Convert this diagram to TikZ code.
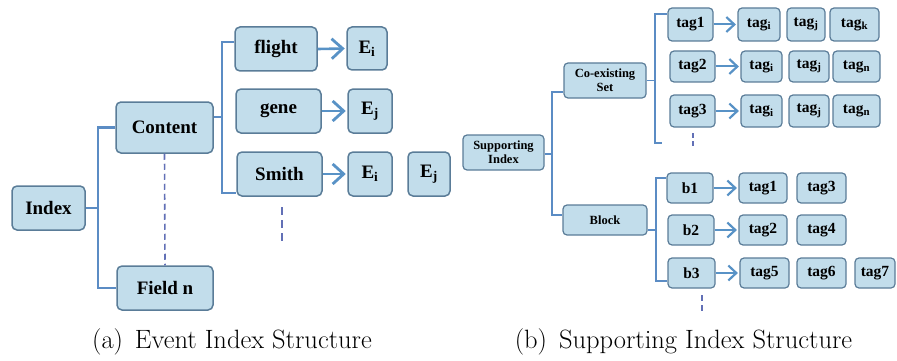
\documentclass[tikz,border=0pt]{standalone}
\usepackage{fontspec}
\newfontfamily\tnr{Liberation Serif}
\usetikzlibrary{arrows.meta}
\definecolor{boxfill}{HTML}{C2DDEB}
\definecolor{boxborder}{HTML}{5A7C98}
\definecolor{linecol}{HTML}{5B8CC4}
\definecolor{arrowcol}{HTML}{5892C6}
\newcommand{\sub}[1]{\textsubscript{#1}}
\tikzset{
  box/.style={draw=boxborder, fill=boxfill, rounded corners=5pt, line width=1.5pt, inner sep=0pt,
    font=\tnr\bfseries\fontsize{19}{21}\selectfont},
  smallbox/.style={box, line width=1.2pt, rounded corners=4pt, font=\tnr\bfseries\fontsize{15.5}{17}\selectfont},
  labbox/.style={box, line width=1.2pt, rounded corners=4pt, align=center, font=\tnr\bfseries\fontsize{12.5}{14}\selectfont},
  sz/.style 2 args={minimum width=#1pt, minimum height=#2pt},
  bline/.style={draw=linecol, line width=2.6pt},
  sline/.style={draw=linecol, line width=1.8pt},
  arr/.style={draw=arrowcol, line width=2.6pt, -{Straight Barb[length=11pt,width=20pt,line width=2.8pt]}, shorten >=1.5pt},
  sarr/.style={draw=arrowcol, line width=2pt, -{Straight Barb[length=8pt,width=15pt,line width=2.2pt]}, shorten >=1.5pt},
  dline/.style={draw=linecol!80!violet, line width=2pt, dash pattern=on 7pt off 4pt},
  captext/.style={font=\fontsize{26.5}{30}\selectfont, inner sep=0pt}
}
\begin{document}
\begin{tikzpicture}[x=1pt, y=-1pt]
\useasboundingbox (0,0) rectangle (897,361);
% ---------- (a) ----------
\node[box, sz={73}{44}] (index) at (48.5,208) {Index};
\node[box, sz={97}{51}] (content) at (164.5,127.5) {Content};
\node[box, sz={96}{44}] (fieldn) at (165,288) {Field n};
\node[box, sz={82}{44}] (flight) at (276,49) {flight};
\node[box, sz={40}{43}] (ei1) at (367,48.5) {E\sub{i}};
\node[box, sz={85}{44}] (gene) at (278.5,111) {gene};
\node[box, sz={44}{44}] (ej1) at (370,111) {E\sub{j}};
\node[box, sz={85}{44}] (smith) at (279.5,174) {Smith};
\node[box, sz={44}{44}] (ei2) at (370,174) {E\sub{i}};
\node[box, sz={42}{44}] (ej2) at (429,174) {E\sub{j}};

\coordinate (iv) at (98,208);
\draw[bline] (index.east) -- (iv);
\draw[bline] (content.west) -| (iv) |- (fieldn.west);
\coordinate (cv1) at (222,42);
\coordinate (cv2) at (222,193);
\coordinate (cv3) at (222,117);
\draw[bline] (flight.west |- cv1) -- (cv1) -- (cv2) -- (smith.west |- cv2);
\draw[bline] (content.east |- cv3) -- (cv3);
\draw[arr] (flight.east) -- (ei1.west);
\draw[arr] (gene.east) -- (ej1.west);
\draw[arr] (smith.east) -- (ei2.west);
\draw[dline, line width=1.6pt, dash pattern=on 6pt off 4pt] (content.south) -- (fieldn.north);
\coordinate (sd1) at (282,207);
\coordinate (sd2) at (282,245);
\draw[dline, line width=2.4pt, dash pattern=on 8pt off 5pt] (sd1) -- (sd2);

\node[captext] (capa) at (232,342) {(a)\hspace{0.45em}Event Index Structure};

% ---------- (b) ----------
\node[labbox, sz={81}{35}] (si) at (503.5,152.5) {Supporting\\Index};
\node[labbox, sz={82}{35}] (co) at (605,80.5) {Co-existing\\Set};
\node[labbox, sz={84}{30}] (block) at (605,220) {Block};

\node[smallbox, sz={45}{33}] (t1) at (690.5,24.5) {tag1};
\node[smallbox, sz={42}{33}] (t1i) at (759,24.5) {tag\sub{i}};
\node[smallbox, sz={38}{33}] (t1j) at (806,24.5) {tag\sub{j}};
\node[smallbox, sz={49}{33}] (t1k) at (854.5,24.5) {tag\sub{k}};

\node[smallbox, sz={45}{31}] (t2) at (692.5,66.5) {tag2};
\node[smallbox, sz={41}{31}] (t2i) at (761.5,66.5) {tag\sub{i}};
\node[smallbox, sz={40}{31}] (t2j) at (809,66.5) {tag\sub{j}};
\node[smallbox, sz={47}{31}] (t2n) at (856.5,66.5) {tag\sub{n}};

\node[smallbox, sz={45}{32}] (t3) at (692.5,111) {tag3};
\node[smallbox, sz={41}{32}] (t3i) at (761.5,111) {tag\sub{i}};
\node[smallbox, sz={40}{32}] (t3j) at (809,111) {tag\sub{j}};
\node[smallbox, sz={47}{32}] (t3n) at (856.5,111) {tag\sub{n}};

\node[smallbox, sz={46}{30}] (b1) at (690,188) {b1};
\node[smallbox, sz={48}{30}] (b1a) at (763,188) {tag1};
\node[smallbox, sz={49}{30}] (b1b) at (821.5,188) {tag3};

\node[smallbox, sz={46}{30}] (b2) at (691,230) {b2};
\node[smallbox, sz={48}{30}] (b2a) at (763,230) {tag2};
\node[smallbox, sz={49}{30}] (b2b) at (821.5,230) {tag4};

\node[smallbox, sz={47}{30}] (b3) at (691.5,273) {b3};
\node[smallbox, sz={49}{30}] (b3a) at (764.5,273) {tag5};
\node[smallbox, sz={49}{30}] (b3b) at (821.5,273) {tag6};
\node[smallbox, sz={40}{30}] (b3c) at (875,273) {tag7};

% brackets
\coordinate (sv0) at (552,154);
\coordinate (sv1) at (552,92);
\coordinate (sv2) at (552,215);
\draw[sline] (si.east |- sv0) -- (sv0);
\draw[sline] (co.west |- sv1) -- (sv1) -- (sv2) -- (block.west |- sv2);

\coordinate (cv0) at (655,80.5);
\coordinate (ct1) at (655,14);
\coordinate (ct2) at (655,143);
\coordinate (ct3) at (662,143);
\draw[sline] (co.east) -- (cv0);
\draw[sline] (t1.west |- ct1) -- (ct1) -- (ct2) -- (ct3);

\coordinate (bv0) at (656,230);
\coordinate (bt1) at (656,178);
\coordinate (bt2) at (656,281);
\draw[sline] (block.east |- bv0) -- (bv0);
\draw[sline] (b1.west |- bt1) -- (bt1) -- (bt2) -- (b3.west |- bt2);

\draw[sarr] (t1.east) -- (t1i.west);
\draw[sarr] (t2.east) -- (t2i.west);
\draw[sarr] (t3.east) -- (t3i.west);
\draw[sarr] (b1.east) -- (b1a.west);
\draw[sarr] (b2.east) -- (b2a.west);
\draw[sarr] (b3.east) -- (b3a.west);

\coordinate (td1) at (693,133);
\coordinate (td2) at (693,146);
\draw[dline, line width=1.6pt, dash pattern=on 5pt off 3pt] (td1) -- (td2);
\coordinate (bd1) at (702,295);
\coordinate (bd2) at (702,311);
\draw[dline, line width=1.6pt, dash pattern=on 6pt off 4pt] (bd1) -- (bd2);

\node[captext] (capb) at (683.5,342) {(b)\hspace{0.45em}Supporting Index Structure};
\end{tikzpicture}
\end{document}
